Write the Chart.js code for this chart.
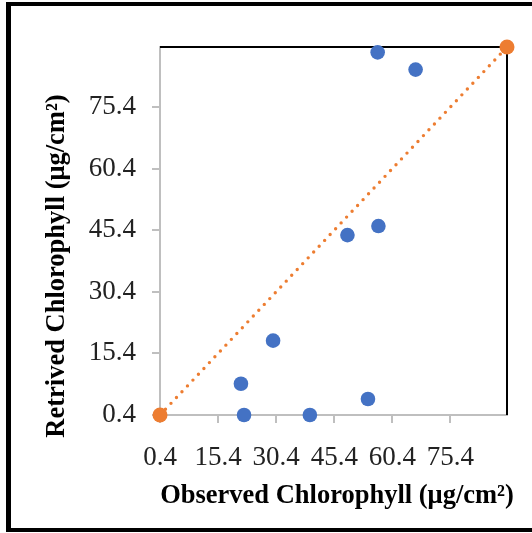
<!DOCTYPE html>
<html>
<head>
<meta charset="utf-8">
<script src="https://cdn.jsdelivr.net/npm/chart.js@4.4.1/dist/chart.umd.min.js"></script>
<style>
    body { margin: 0; background: #fff; overflow: hidden; }
    #wrap { position: relative; width: 532px; height: 533px; overflow: hidden; }
    #chart { position: absolute; left: 0; top: 0; }
    #frame {
        position: absolute; left: 6px; top: 2px;
        width: 600px; height: 522px;
        border: 4px solid #000; border-left-width: 5px;
        pointer-events: none;
    }
</style>
</head>
<body>
<div id="wrap">
    <canvas id="chart" width="532" height="533"></canvas>
    <div id="frame"></div>
</div>
<script>
const tickValues = [0.4, 15.4, 30.4, 45.4, 60.4, 75.4];
const axisMin = 0.4;
const axisMax = 90;

const observed = [56.6, 66.4, 48.8, 56.8, 29.6, 21.3, 22.1, 39.1, 54.1];
const retrieved = [88.7, 84.5, 44.2, 46.4, 18.5, 8.0, 0.4, 0.4, 4.3];

const lineX = [0.4, 90];
const lineY = [0.4, 90];

const xTitle = "Observed Chlorophyll (μg/cm²)";
const yTitle = "Retrived Chlorophyll (μg/cm²)";

const serif = "'Liberation Serif', 'Times New Roman', serif";

// black top and right border of the plot area, and the axis titles
const framePlugin = {
    id: 'framePlugin',
    beforeDatasetsDraw(chart) {
        const a = chart.chartArea;
        const ctx = chart.ctx;
        ctx.save();
        ctx.strokeStyle = '#000';
        ctx.lineWidth = 2;
        ctx.beginPath();
        ctx.moveTo(a.left, a.top);
        ctx.lineTo(a.right, a.top);
        ctx.lineTo(a.right, a.bottom);
        ctx.stroke();
        ctx.restore();
    },
    afterDraw(chart) {
        const ctx = chart.ctx;
        ctx.save();
        ctx.fillStyle = '#000';
        ctx.font = "bold 26.5px " + serif;
        ctx.textAlign = 'center';
        ctx.textBaseline = 'middle';
        ctx.fillText(xTitle, 337, 496);
        ctx.translate(57, 266);
        ctx.rotate(-Math.PI / 2);
        ctx.fillText(yTitle, 0, 0);
        ctx.restore();
    }
};

function setTicks(scale) {
    scale.ticks = tickValues.map(v => ({value: v}));
}

const ctx = document.getElementById('chart').getContext('2d');
new Chart(ctx, {
    type: 'scatter',
    data: {
        datasets: [
            {
                label: 'Retrieved',
                data: observed.map((x, i) => ({x: x, y: retrieved[i]})),
                backgroundColor: '#4472C4',
                borderColor: '#4472C4',
                pointRadius: 7.3,
                pointBorderWidth: 0,
                showLine: false,
                clip: false
            },
            {
                label: '1:1',
                data: lineX.map((x, i) => ({x: x, y: lineY[i]})),
                backgroundColor: '#ED7D31',
                borderColor: '#ED7D31',
                pointBackgroundColor: '#ED7D31',
                pointRadius: 7.5,
                pointBorderWidth: 0,
                showLine: true,
                borderWidth: 3.4,
                borderDash: [0, 8],
                borderCapStyle: 'round',
                clip: false
            }
        ]
    },
    options: {
        responsive: false,
        animation: false,
        layout: {padding: {top: 47, right: 25, left: 0, bottom: 0}},
        plugins: {
            legend: {display: false},
            tooltip: {enabled: false}
        },
        scales: {
            x: {
                type: 'linear',
                min: axisMin,
                max: axisMax,
                afterBuildTicks: setTicks,
                afterFit(scale) { scale.height = 118; },
                grid: {drawOnChartArea: false, drawTicks: true, tickLength: 8, color: '#bfbfbf', lineWidth: 2},
                border: {color: '#bfbfbf', width: 2},
                ticks: {
                    padding: 19,
                    color: '#222',
                    maxRotation: 0,
                    autoSkip: false,
                    font: {family: serif, size: 27},
                    callback: v => String(v)
                }
            },
            y: {
                type: 'linear',
                min: axisMin,
                max: axisMax,
                afterBuildTicks: setTicks,
                afterFit(scale) { scale.width = 160; },
                grid: {drawOnChartArea: false, drawTicks: true, tickLength: 8, color: '#bfbfbf', lineWidth: 2},
                border: {color: '#bfbfbf', width: 2},
                ticks: {
                    padding: 16,
                    color: '#222',
                    autoSkip: false,
                    font: {family: serif, size: 27},
                    callback: v => String(v)
                }
            }
        }
    },
    plugins: [framePlugin]
});
</script>
</body>
</html>
